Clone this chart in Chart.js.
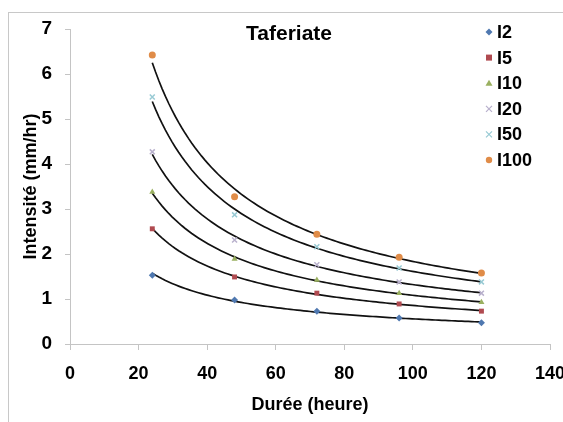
<!DOCTYPE html>
<html>
<head>
<meta charset="utf-8">
<script src="https://cdn.jsdelivr.net/npm/chart.js@4"></script>
<style>
  html, body { margin: 0; padding: 0; background: #fff; }
  #wrap { width: 563px; height: 422px; }
</style>
</head>
<body>
<div id="wrap"><canvas id="myChart" width="563" height="422"></canvas></div>
<script>
const durees = [24, 48, 72, 96, 120];
const seriesNames = ["I2", "I5", "I10", "I20", "I50", "I100"];
const i2 = [1.53, 0.98, 0.73, 0.58, 0.47];
const i5 = [2.56, 1.49, 1.13, 0.89, 0.73];
const i10 = [3.38, 1.89, 1.42, 1.13, 0.93];
const i20 = [4.27, 2.31, 1.76, 1.38, 1.13];
const i50 = [5.49, 2.87, 2.16, 1.69, 1.38];
const i100 = [6.42, 3.27, 2.44, 1.93, 1.58];
const xTicks = [0, 20, 40, 60, 80, 100, 120, 140];
const yTicks = [0, 1, 2, 3, 4, 5, 6, 7];

const FONT = "'Liberation Sans', Arial, sans-serif";
const colors = ["#4f78b0", "#b04a50", "#9ab060", "#b8b0cc", "#98cad4", "#e08c48"];
const styles = ["rectRot", "rect", "triangle", "crossRot", "crossRot", "circle"];
const allValues = [i2, i5, i10, i20, i50, i100];

const datasets = allValues.map((vals, k) => ({
  label: seriesNames[k],
  data: vals.map((v, j) => ({ x: durees[j], y: v })),
  showLine: false,
  pointStyle: styles[k],
  pointRadius: 3.5,
  pointBackgroundColor: colors[k],
  pointBorderColor: colors[k],
  pointBorderWidth: styles[k] === "crossRot" ? 1.5 : 0,
}));

// power trendline (y = a * x^b), least squares on logs, like the spreadsheet
function powerFit(xs, ys) {
  const n = xs.length;
  let sx = 0, sy = 0, sxx = 0, sxy = 0;
  for (let i = 0; i < n; i++) {
    const lx = Math.log(xs[i]), ly = Math.log(ys[i]);
    sx += lx; sy += ly; sxx += lx * lx; sxy += lx * ly;
  }
  const b = (n * sxy - sx * sy) / (n * sxx - sx * sx);
  const a = Math.exp((sy - b * sx) / n);
  return { a, b };
}

const trendlines = {
  id: "trendlines",
  beforeDatasetsDraw(chart) {
    const ctx = chart.ctx;
    const xs = chart.scales.x, ys = chart.scales.y;
    ctx.save();
    ctx.strokeStyle = "#111";
    ctx.lineWidth = 1.7;
    allValues.forEach((vals) => {
      const f = powerFit(durees, vals);
      const x0 = durees[0], x1 = durees[durees.length - 1];
      ctx.beginPath();
      for (let s = 0; s <= 100; s++) {
        const x = x0 + (x1 - x0) * s / 100;
        const px = xs.getPixelForValue(x), py = ys.getPixelForValue(f.a * Math.pow(x, f.b));
        if (s === 0) ctx.moveTo(px, py); else ctx.lineTo(px, py);
      }
      ctx.stroke();
    });
    ctx.restore();
  }
};

// frame, title and legend are drawn on top of the plot like in the original
const extras = {
  id: "extras",
  beforeDraw(chart) {
    const ctx = chart.ctx;
    ctx.save();
    ctx.strokeStyle = "#c8c8c8";
    ctx.lineWidth = 1;
    ctx.strokeRect(8.5, 12.5, 600, 500);
    ctx.restore();
  },
  afterDraw(chart) {
    const ctx = chart.ctx;
    ctx.save();
    ctx.fillStyle = "#000";
    ctx.font = "bold 21px " + FONT;
    ctx.textAlign = "center";
    ctx.textBaseline = "middle";
    ctx.fillText("Taferiate", 289, 34);

    ctx.font = "bold 18px " + FONT;
    ctx.textAlign = "left";
    chart.data.datasets.forEach((ds, k) => {
      const y = 32 + k * 25.6;
      ctx.fillStyle = ds.pointBackgroundColor;
      ctx.strokeStyle = ds.pointBorderColor;
      ctx.lineWidth = 1.2;
      ctx.beginPath();
      if (ds.pointStyle === "crossRot") {
        ctx.moveTo(486, y - 3); ctx.lineTo(492, y + 3);
        ctx.moveTo(492, y - 3); ctx.lineTo(486, y + 3);
        ctx.stroke();
      } else if (ds.pointStyle === "rect") {
        ctx.fillRect(486, y - 3, 6, 6);
      } else if (ds.pointStyle === "rectRot") {
        ctx.moveTo(489, y - 3.5); ctx.lineTo(492.5, y); ctx.lineTo(489, y + 3.5); ctx.lineTo(485.5, y);
        ctx.closePath(); ctx.fill();
      } else if (ds.pointStyle === "triangle") {
        ctx.moveTo(489, y - 3.5); ctx.lineTo(492.5, y + 2.5); ctx.lineTo(485.5, y + 2.5);
        ctx.closePath(); ctx.fill();
      } else {
        ctx.arc(489, y, 3.2, 0, Math.PI * 2); ctx.fill();
      }
      ctx.fillStyle = "#000";
      ctx.fillText(ds.label, 497, y + 1);
    });
    ctx.restore();
  }
};

const axisGray = "#c4c4c4";
const ctx = document.getElementById("myChart").getContext("2d");
const myChart = new Chart(ctx, {
  type: "scatter",
  data: { datasets },
  plugins: [trendlines, extras],
  options: {
    responsive: false,
    animation: false,
    layout: { padding: { top: 29, right: 13, left: 12, bottom: 0 } },
    plugins: { legend: { display: false }, tooltip: { enabled: false } },
    scales: {
      x: {
        type: "linear",
        min: 0,
        max: 140,
        afterBuildTicks: (s) => { s.ticks = xTicks.map((v) => ({ value: v })); },
        afterFit: (s) => { s.height = 78; s.paddingRight = 0; s.paddingLeft = 0; },
        grid: { drawOnChartArea: false, drawTicks: true, tickLength: 6, color: axisGray },
        border: { display: true, color: axisGray },
        ticks: { color: "#000", padding: 13, font: { family: FONT, size: 18, weight: "bold" } },
        title: {
          display: true,
          text: "Durée (heure)",
          color: "#000",
          padding: { top: 0, bottom: 6 },
          font: { family: FONT, size: 18, weight: "bold" },
        },
      },
      y: {
        min: 0,
        max: 7,
        afterBuildTicks: (s) => { s.ticks = yTicks.map((v) => ({ value: v })); },
        afterFit: (s) => { s.width = 58; s.paddingTop = 0; s.paddingBottom = 0; },
        grid: { drawOnChartArea: false, drawTicks: true, tickLength: 5, color: axisGray },
        border: { display: true, color: axisGray },
        ticks: { color: "#000", padding: 13, font: { family: FONT, size: 19, weight: "bold" } },
        title: {
          display: true,
          text: "Intensité (mm/hr)",
          color: "#000",
          padding: { top: 8, bottom: 0 },
          font: { family: FONT, size: 18, weight: "bold" },
        },
      },
    },
  },
});
</script>
</body>
</html>
